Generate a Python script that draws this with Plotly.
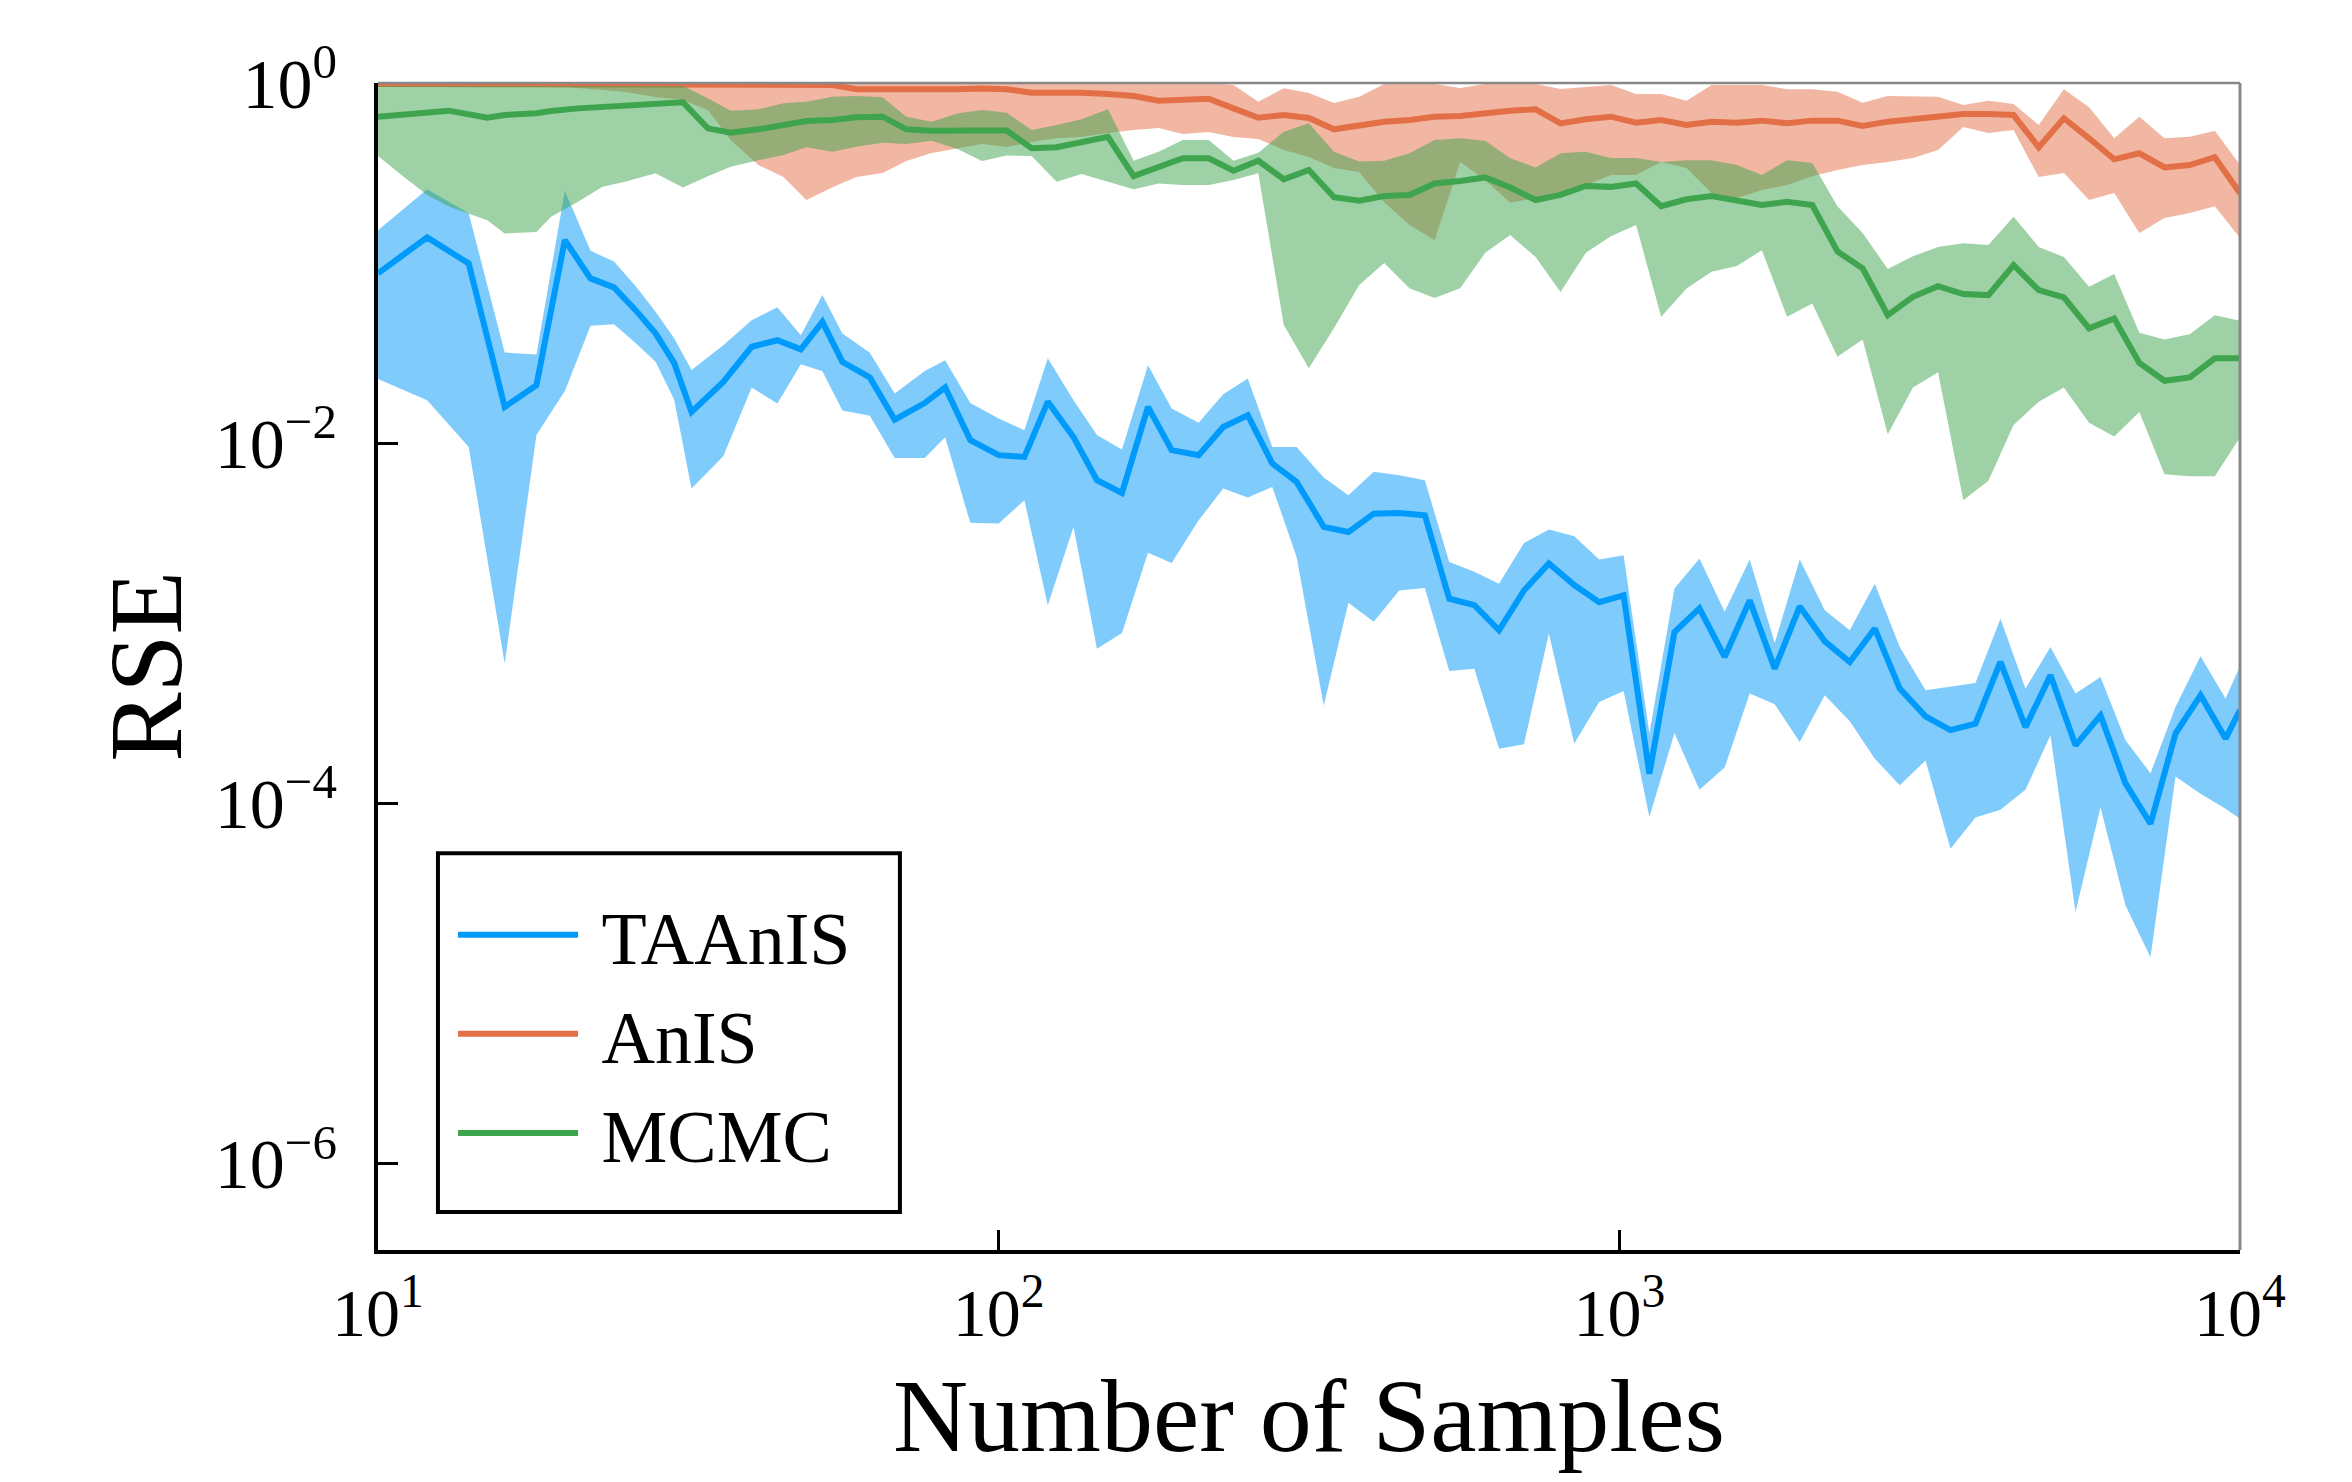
import plotly.graph_objects as go

# ---------------- data ----------------
taanis_x = [10, 12, 14, 16, 18, 20, 22, 24, 26, 28, 30,
            32, 36, 40, 44, 48, 52, 56, 62, 68, 76, 82, 90,
            100, 110, 120, 132, 144, 158, 174, 190, 210, 230, 252, 276, 302,
            334, 366, 402, 442, 486, 532, 584, 640, 702, 770, 846, 928,
            1016, 1118, 1227, 1346, 1478, 1622, 1780, 1953, 2143, 2351, 2580, 2830, 3114,
            3416, 3748, 4112, 4512, 4950, 5432, 5960, 6539, 7175, 7872, 8638, 9478, 10000]
taanis_mean = [0.0877, 0.139, 0.0995, 0.0159, 0.0210, 0.134, 0.0822, 0.0733, 0.0548, 0.0407, 0.0279,
               0.0149, 0.0219, 0.0343, 0.0373, 0.0332, 0.0472, 0.0283, 0.0232, 0.0135, 0.0167, 0.0204, 0.0104,
               0.00858, 0.00839, 0.0170, 0.0108, 0.00623, 0.00530, 0.0159, 0.00915, 0.00858, 0.0123, 0.0143, 0.00771, 0.00610,
               0.00343, 0.00321, 0.00406, 0.00410, 0.00398, 0.00137, 0.00126, 0.000914, 0.00152, 0.00215, 0.00163, 0.00131,
               0.00143, 0.000146, 0.000895, 0.00121, 0.000650, 0.00134, 0.000560, 0.00124, 0.000794, 0.000610, 0.000935, 0.000434, 0.000304,
               0.000255, 0.000277, 0.000610, 0.000265, 0.000514, 0.000210, 0.000308, 0.000129, 0.0000771, 0.000244, 0.000398, 0.000229, 0.000329]
taanis_upper = [0.152, 0.257, 0.189, 0.0319, 0.0311, 0.252, 0.117, 0.102, 0.0745, 0.0536, 0.0382,
                0.0255, 0.0350, 0.0482, 0.0568, 0.0398, 0.0664, 0.0407, 0.0318, 0.0189, 0.0252, 0.0289, 0.0167,
                0.0137, 0.0118, 0.0296, 0.0173, 0.0111, 0.00923, 0.0271, 0.0156, 0.0130, 0.0187, 0.0229, 0.00953, 0.00953,
                0.00645, 0.00514, 0.00693, 0.00664, 0.00623, 0.00219, 0.00193, 0.00166, 0.00279, 0.00332, 0.00304, 0.00226,
                0.00239, 0.000244, 0.00156, 0.00229, 0.00116, 0.00226, 0.000778, 0.00226, 0.00118, 0.000914, 0.00166, 0.000738, 0.000425,
                0.000443, 0.000466, 0.00106, 0.000434, 0.000738, 0.000407, 0.000503, 0.000224, 0.000147, 0.000343, 0.000656, 0.000382, 0.000577]
taanis_lower = [0.0227, 0.0173, 0.00953, 0.000597, 0.0111, 0.0195, 0.0449, 0.0458, 0.0360, 0.0283, 0.0175,
                0.00560, 0.00847, 0.0204, 0.0166, 0.0274, 0.0251, 0.0152, 0.0142, 0.00828, 0.00828, 0.0108, 0.00361,
                0.00358, 0.00482, 0.00126, 0.00343, 0.000723, 0.000883, 0.00246, 0.00216, 0.00373, 0.00560, 0.00499, 0.00572, 0.00233,
                0.000350, 0.00130, 0.00102, 0.00152, 0.00157, 0.000543, 0.000560, 0.000201, 0.000213, 0.000877, 0.000215, 0.000366,
                0.000421, 0.0000839, 0.000246, 0.000119, 0.000158, 0.000407, 0.000355, 0.000219, 0.000398, 0.000286, 0.000177, 0.000126, 0.000173,
                0.0000560, 0.0000834, 0.0000923, 0.000119, 0.000239, 0.0000249, 0.0000953, 0.0000271, 0.0000140, 0.000141, 0.000113, 0.0000935, 0.0000822]

grid_x = [10, 11, 12, 13, 15, 16, 18, 19, 21, 23, 25, 28, 31,
          34, 37, 41, 45, 49, 54, 59, 65, 71, 78, 86, 94,
          103, 113, 124, 136, 150, 165, 181, 198, 218, 239, 262, 288, 316,
          347, 381, 418, 459, 504, 554, 608, 667, 733, 804, 883, 969,
          1064, 1168, 1283, 1408, 1546, 1697, 1863, 2046, 2246, 2466, 2707, 2972,
          3262, 3582, 3932, 4317, 4739, 5203, 5712, 6271, 6884, 7558, 8298, 9109, 10000]

anis_mean = [0.987, 0.987, 0.987, 0.987, 0.987, 0.987, 0.987, 0.987, 0.981, 0.981, 0.981, 0.981, 0.975,
             0.975, 0.975, 0.975, 0.975, 0.975, 0.975, 0.923, 0.923, 0.914, 0.923, 0.923, 0.932,
             0.923, 0.883, 0.888, 0.883, 0.869, 0.847, 0.798, 0.808, 0.818, 0.723, 0.641, 0.664, 0.639,
             0.553, 0.585, 0.610, 0.623, 0.650, 0.656, 0.684, 0.702, 0.714, 0.597, 0.629, 0.650,
             0.602, 0.623, 0.585, 0.610, 0.602, 0.618, 0.597, 0.618, 0.618, 0.577, 0.610, 0.629,
             0.643, 0.673, 0.673, 0.664, 0.440, 0.637, 0.493, 0.377, 0.407, 0.340, 0.350, 0.387, 0.244]
anis_upper = [1.0, 1.0, 1.0, 1.0, 1.0, 1.0, 1.0, 1.0, 1.0, 1.0, 1.0, 1.0, 1.0,
              1.0, 1.0, 1.0, 1.0, 1.0, 1.0, 1.0, 1.0, 1.0, 1.0, 1.0, 1.0,
              1.0, 1.0, 1.0, 1.0, 1.0, 1.0, 1.0, 1.0, 1.0, 0.975, 0.787, 0.934, 0.880,
              0.774, 0.839, 0.987, 0.987, 0.987, 0.938, 0.987, 0.987, 0.987, 0.926, 0.954, 0.975,
              0.869, 0.869, 0.798, 0.975, 0.975, 0.975, 0.923, 0.923, 0.895, 0.777, 0.847, 0.847,
              0.839, 0.755, 0.798, 0.765, 0.585, 0.923, 0.733, 0.493, 0.650, 0.493, 0.503, 0.543, 0.350]
anis_lower = [0.975, 0.975, 0.975, 0.975, 0.975, 0.975, 0.975, 0.975, 0.938, 0.914, 0.891, 0.836, 0.805,
              0.708, 0.482, 0.350, 0.301, 0.224, 0.264, 0.301, 0.316, 0.369, 0.409, 0.435, 0.458,
              0.441, 0.470, 0.494, 0.501, 0.527, 0.548, 0.562, 0.521, 0.535, 0.501, 0.489, 0.425, 0.388,
              0.337, 0.320, 0.218, 0.163, 0.134, 0.364, 0.289, 0.216, 0.230, 0.245, 0.271, 0.308,
              0.308, 0.364, 0.337, 0.245, 0.230, 0.255, 0.271, 0.304, 0.329, 0.350, 0.364, 0.383,
              0.425, 0.570, 0.527, 0.548, 0.301, 0.316, 0.224, 0.245, 0.147, 0.178, 0.190, 0.207, 0.138]

mcmc_mean = [0.650, 0.673, 0.693, 0.702, 0.641, 0.664, 0.679, 0.699, 0.723, 0.738, 0.755, 0.771, 0.781,
             0.560, 0.530, 0.553, 0.585, 0.615, 0.623, 0.645, 0.650, 0.553, 0.543, 0.548, 0.545,
             0.545, 0.434, 0.440, 0.466, 0.503, 0.304, 0.343, 0.382, 0.382, 0.326, 0.370, 0.292, 0.329,
             0.232, 0.222, 0.236, 0.239, 0.277, 0.286, 0.299, 0.263, 0.224, 0.239, 0.268, 0.265,
             0.277, 0.207, 0.226, 0.236, 0.222, 0.210, 0.219, 0.210, 0.116, 0.0935, 0.0514, 0.0650,
             0.0745, 0.0673, 0.0664, 0.0975, 0.0708, 0.0645, 0.0434, 0.0493, 0.0279, 0.0222, 0.0232, 0.0296, 0.0296]
mcmc_upper = [0.962, 0.962, 0.962, 0.962, 0.962, 0.962, 0.962, 0.962, 0.962, 0.962, 0.962, 0.962, 0.962,
              0.822, 0.702, 0.714, 0.771, 0.787, 0.839, 0.847, 0.833, 0.650, 0.610, 0.679, 0.708,
              0.684, 0.548, 0.585, 0.629, 0.714, 0.370, 0.415, 0.482, 0.482, 0.370, 0.410, 0.536, 0.597,
              0.415, 0.366, 0.370, 0.407, 0.482, 0.493, 0.478, 0.382, 0.340, 0.407, 0.415, 0.383,
              0.383, 0.364, 0.373, 0.373, 0.350, 0.308, 0.373, 0.360, 0.207, 0.147, 0.0926, 0.109,
              0.123, 0.129, 0.126, 0.181, 0.123, 0.108, 0.0739, 0.0869, 0.0410, 0.0377, 0.0403, 0.0514, 0.0478]
mcmc_lower = [0.393, 0.302, 0.239, 0.206, 0.173, 0.146, 0.149, 0.181, 0.219, 0.265, 0.283, 0.315, 0.263,
              0.304, 0.343, 0.373, 0.398, 0.440, 0.415, 0.443, 0.466, 0.458, 0.478, 0.428, 0.369,
              0.396, 0.393, 0.283, 0.312, 0.283, 0.257, 0.277, 0.271, 0.271, 0.289, 0.315, 0.0453, 0.0261,
              0.0436, 0.0755, 0.100, 0.0726, 0.0640, 0.0726, 0.114, 0.143, 0.108, 0.0690, 0.114, 0.141,
              0.163, 0.0504, 0.0723, 0.0895, 0.0962, 0.118, 0.0504, 0.0597, 0.0302, 0.0377, 0.0112, 0.0204,
              0.0248, 0.00482, 0.00618, 0.0126, 0.0170, 0.0204, 0.0130, 0.0109, 0.0149, 0.00673, 0.00656, 0.00656, 0.0108]

x_tick_vals = [10, 100, 1000, 10000]
x_tick_text = ["10<sup>1</sup>", "10<sup>2</sup>", "10<sup>3</sup>", "10<sup>4</sup>"]
y_tick_vals = [1, 1e-2, 1e-4, 1e-6]
y_tick_text = ["10<sup>0</sup>", "10<sup>\u22122</sup>", "10<sup>\u22124</sup>", "10<sup>\u22126</sup>"]
x_title = "Number of Samples"
y_title = "RSE"

series = [
    ("TAAnIS", taanis_x, taanis_mean, taanis_upper, taanis_lower, "#009AFA", "rgba(0,154,250,0.5)"),
    ("AnIS", grid_x, anis_mean, anis_upper, anis_lower, "#E36F47", "rgba(227,111,71,0.5)"),
    ("MCMC", grid_x, mcmc_mean, mcmc_upper, mcmc_lower, "#3EA44E", "rgba(62,164,78,0.5)"),
]

FONT = "Liberation Serif"

fig = go.Figure()
for name, xs, mean, up, lo, col, fillcol in series:
    fig.add_trace(go.Scatter(
        x=list(xs) + list(xs)[::-1], y=list(up) + list(lo)[::-1],
        fill="toself", fillcolor=fillcol, mode="lines", line=dict(width=0),
        hoverinfo="skip", showlegend=False))
    fig.add_trace(go.Scatter(
        x=xs, y=mean, mode="lines", name="\u00a0" + name,
        line=dict(color=col, width=6)))

fig.update_layout(
    width=2344, height=1474,
    paper_bgcolor="white", plot_bgcolor="white",
    margin=dict(l=370, r=112, t=75, b=232, autoexpand=False),
    font=dict(family=FONT, color="black", size=70),
    showlegend=True,
    legend=dict(x=0.0403, y=0.317, xanchor="left", yanchor="top",
                bgcolor="rgba(0,0,0,0)", borderwidth=0,
                font=dict(family=FONT, size=74, color="black"),
                itemwidth=120),
    shapes=[
        dict(type="line", xref="paper", yref="paper", x0=0, x1=1, y0=1, y1=1,
             line=dict(color="#888888", width=2.5)),
        dict(type="line", xref="paper", yref="paper", x0=1, x1=1, y0=0, y1=1,
             line=dict(color="#888888", width=3)),
        # legend frame
        dict(type="rect", xref="paper", yref="paper", x0=0.0322, x1=0.2803, y0=0.0326, y1=0.340,
             line=dict(color="black", width=4), fillcolor="white", layer="above"),
    ],
    annotations=[
        dict(text=x_title, xref="paper", yref="paper", x=0.5, y=-0.142,
             xanchor="center", yanchor="middle", showarrow=False,
             font=dict(family=FONT, size=104, color="black")),
        dict(text=y_title, xref="paper", yref="paper", x=-0.125, y=0.5,
             xanchor="center", yanchor="middle", showarrow=False, textangle=-90,
             font=dict(family=FONT, size=104, color="black")),
    ],
)
fig.update_xaxes(
    type="log", range=[1, 4], showgrid=False, zeroline=False,
    showline=True, linecolor="black", linewidth=4,
    ticks="inside", ticklen=20, tickwidth=3, tickcolor="black",
    tickvals=x_tick_vals, ticktext=x_tick_text,
    tickfont=dict(family=FONT, size=68),
    automargin=False,
)
fig.update_yaxes(
    type="log", range=[-6.48, 0], showgrid=False, zeroline=False,
    showline=True, linecolor="black", linewidth=4,
    ticks="inside", ticklen=20, tickwidth=3, tickcolor="black",
    tickvals=y_tick_vals, ticktext=y_tick_text,
    tickfont=dict(family=FONT, size=70),
    ticklabelstandoff=23,
    automargin=False,
)

fig.write_html("out.html")
